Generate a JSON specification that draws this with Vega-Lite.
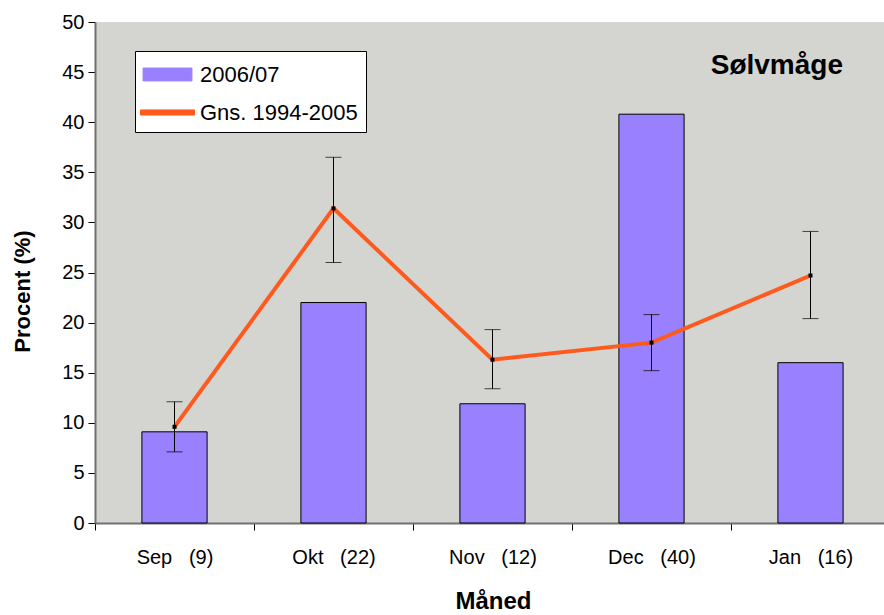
{
  "$schema": "https://vega.github.io/schema/vega-lite/v6.json",
  "autosize": "none",
  "width": 789,
  "height": 501,
  "padding": {"left": 95, "top": 22, "right": 0, "bottom": 92},
  "background": "white",
  "config": {
    "view": {"fill": "#D4D5D0", "stroke": null},
    "font": "Liberation Sans",
    "legend": {
      "orient": "none",
      "legendX": 40,
      "legendY": 29,
      "fillColor": "white",
      "strokeColor": "black",
      "padding": 8,
      "labelFontSize": 22,
      "labelFont": "Liberation Sans",
      "labelColor": "black",
      "labelLimit": 300,
      "labelOffset": 17,
      "symbolOffset": 9,
      "rowPadding": 11,
      "symbolSize": 900
    }
  },
  "title": {
    "text": "Sølvmåge",
    "anchor": "end",
    "frame": "group",
    "orient": "top",
    "fontSize": 28,
    "fontWeight": "bold",
    "font": "Liberation Sans",
    "color": "black",
    "baseline": "alphabetic",
    "offset": -90,
    "dx": -41
  },
  "data": {
    "values": [
      {"month": "Sep\u00a0\u00a0\u00a0(9)", "pct": 9.1, "avg": 9.6, "lo": 7.1, "hi": 12.1},
      {"month": "Okt\u00a0\u00a0\u00a0(22)", "pct": 22.0, "avg": 31.4, "lo": 26.0, "hi": 36.5},
      {"month": "Nov\u00a0\u00a0\u00a0(12)", "pct": 11.9, "avg": 16.3, "lo": 13.4, "hi": 19.3},
      {"month": "Dec\u00a0\u00a0\u00a0(40)", "pct": 40.8, "avg": 18.0, "lo": 15.2, "hi": 20.8},
      {"month": "Jan\u00a0\u00a0\u00a0(16)", "pct": 16.0, "avg": 24.7, "lo": 20.4, "hi": 29.1}
    ]
  },
  "encoding": {
    "x": {
      "field": "month",
      "type": "nominal",
      "sort": null,
      "scale": {"range": [0, 795], "paddingInner": 0, "paddingOuter": 0},
      "axis": {
        "tickBand": "extent",
        "labelAngle": 0,
        "labelFontSize": 20,
        "labelColor": "black",
        "labelPadding": 17,
        "tickSize": 7,
        "tickColor": "black",
        "domainColor": "#707070",
        "domainWidth": 2,
        "grid": false,
        "title": "Måned",
        "titleFontSize": 24,
        "titleFontWeight": "bold",
        "titleColor": "black",
        "titleX": 398,
        "titleY": 78,
        "titleBaseline": "middle",
        "titleAlign": "center"
      }
    }
  },
  "layer": [
    {
      "mark": {"type": "bar", "width": {"band": 0.41}, "stroke": "black", "strokeWidth": 1},
      "encoding": {
        "y": {
          "field": "pct",
          "type": "quantitative",
          "scale": {"domain": [0, 50], "nice": false},
          "axis": {
            "values": [0, 5, 10, 15, 20, 25, 30, 35, 40, 45, 50],
            "grid": false,
            "labelFontSize": 20,
            "labelColor": "black",
            "labelPadding": 4,
            "tickSize": 7,
            "tickColor": "black",
            "domainColor": "#707070",
            "domainWidth": 2,
            "title": "Procent (%)",
            "titleFontSize": 22,
            "titleFontWeight": "bold",
            "titleColor": "black",
            "titleAngle": -90,
            "titleX": -73,
            "titleY": 269,
            "titleAlign": "center",
            "titleBaseline": "middle"
          }
        },
        "color": {
          "datum": "2006/07",
          "scale": {"domain": ["2006/07", "Gns. 1994-2005"], "range": ["#9980FF", "#FF5A1E"]},
          "legend": {
            "title": null,
            "encode": {
              "symbols": {
                "update": {
                  "shape": [
                    {"test": "datum.value === '2006/07'", "value": "M-1.63,-0.43H1.63V0.43H-1.63Z"},
                    {"value": "M-1.8,-0.17H1.8V0.17H-1.8Z"}
                  ],
                  "fill": [
                    {"test": "datum.value === '2006/07'", "value": "#9980FF"},
                    {"value": "#FF5A1E"}
                  ],
                  "stroke": [
                    {"test": "datum.value === '2006/07'", "value": "black"},
                    {"value": "#FF5A1E"}
                  ],
                  "strokeWidth": {"value": 1},
                  "strokeOpacity": {"value": 1},
                  "opacity": {"value": 1},
                  "fillOpacity": {"value": 1}
                }
              }
            }
          }
        }
      }
    },
    {
      "mark": {"type": "line", "color": "#FF5A1E", "strokeWidth": 4},
      "encoding": {
        "y": {"field": "avg", "type": "quantitative"},
        "color": {
          "datum": "Gns. 1994-2005",
          "legend": {
            "title": null,
            "encode": {
              "symbols": {
                "update": {
                  "shape": [
                    {"test": "datum.value === '2006/07'", "value": "M-1.63,-0.43H1.63V0.43H-1.63Z"},
                    {"value": "M-1.8,-0.17H1.8V0.17H-1.8Z"}
                  ],
                  "fill": [
                    {"test": "datum.value === '2006/07'", "value": "#9980FF"},
                    {"value": "#FF5A1E"}
                  ],
                  "stroke": [
                    {"test": "datum.value === '2006/07'", "value": "black"},
                    {"value": "#FF5A1E"}
                  ],
                  "strokeWidth": {"value": 1},
                  "strokeOpacity": {"value": 1},
                  "opacity": {"value": 1},
                  "fillOpacity": {"value": 1}
                }
              }
            }
          }
        }
      }
    },
    {
      "mark": {"type": "rule", "color": "black", "strokeWidth": 1},
      "encoding": {
        "y": {"field": "lo", "type": "quantitative"},
        "y2": {"field": "hi"}
      }
    },
    {
      "mark": {"type": "tick", "color": "black", "size": 16, "thickness": 1},
      "encoding": {"y": {"field": "lo", "type": "quantitative"}}
    },
    {
      "mark": {"type": "tick", "color": "black", "size": 16, "thickness": 1},
      "encoding": {"y": {"field": "hi", "type": "quantitative"}}
    },
    {
      "mark": {"type": "point", "shape": "square", "filled": true, "color": "black", "size": 16, "opacity": 1},
      "encoding": {"y": {"field": "avg", "type": "quantitative"}}
    }
  ]
}
